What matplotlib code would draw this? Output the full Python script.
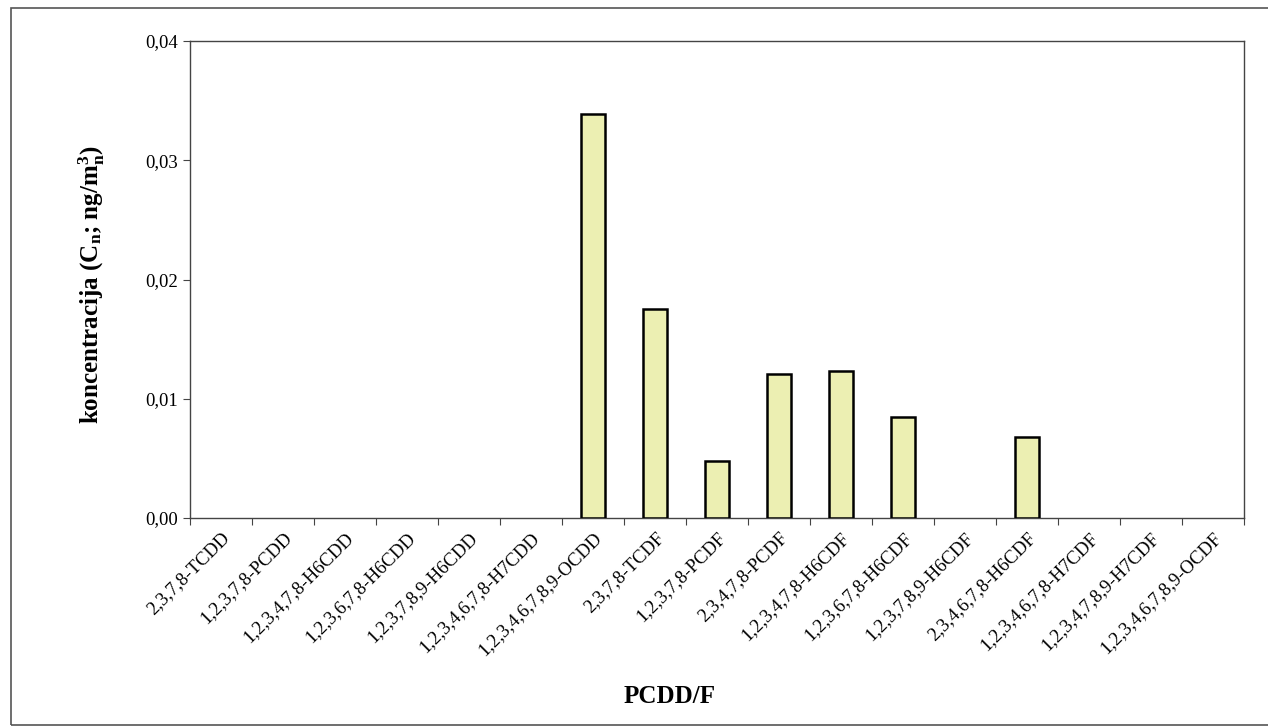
import numpy as np
import matplotlib.pyplot as plt
from matplotlib.patches import Rectangle
from matplotlib.ticker import FuncFormatter

plt.rcParams['font.family'] = ['Liberation Serif', 'DejaVu Serif']
plt.rcParams['mathtext.fontset'] = 'custom'
plt.rcParams['mathtext.rm'] = 'Liberation Serif:bold'
plt.rcParams['mathtext.it'] = 'Liberation Serif:bold'
plt.rcParams['mathtext.bf'] = 'Liberation Serif:bold'

# congeners on the x axis
congeners = [
    "2,3,7,8-TCDD", "1,2,3,7,8-PCDD", "1,2,3,4,7,8-H6CDD", "1,2,3,6,7,8-H6CDD",
    "1,2,3,7,8,9-H6CDD", "1,2,3,4,6,7,8-H7CDD", "1,2,3,4,6,7,8,9-OCDD",
    "2,3,7,8-TCDF", "1,2,3,7,8-PCDF", "2,3,4,7,8-PCDF", "1,2,3,4,7,8-H6CDF",
    "1,2,3,6,7,8-H6CDF", "1,2,3,7,8,9-H6CDF", "2,3,4,6,7,8-H6CDF",
    "1,2,3,4,6,7,8-H7CDF", "1,2,3,4,7,8,9-H7CDF", "1,2,3,4,6,7,8,9-OCDF",
]

# concentration, ng/m3_n
conc = [0, 0, 0, 0, 0, 0, 0.0339, 0.0175, 0.0048, 0.0121, 0.0123, 0.0085,
        0, 0.0068, 0, 0, 0]

yticks = [0.0, 0.01, 0.02, 0.03, 0.04]


def main():
    fig = plt.figure(figsize=(12.68, 7.27), dpi=100)
    ax = fig.add_axes([190 / 1268, 1 - 518 / 727, 1054 / 1268, 477 / 727])

    # outer frame of the scanned chart
    fig.patches.append(Rectangle((11 / 1268, 2 / 727), 1.2, 1 - 10 / 727,
                                 transform=fig.transFigure, fill=False,
                                 edgecolor='#555555', linewidth=1.2))

    x = np.arange(len(congeners))
    # empty categories get no outline
    edges = ['black' if v > 0 else 'none' for v in conc]
    ax.bar(x, conc, width=0.38, color='#ECEFB2', edgecolor=edges,
           linewidth=1.8, zorder=3)

    ax.set_xlim(-0.5, len(congeners) - 0.5)
    ax.set_ylim(0, 0.04)

    # tick marks on category borders, labels at centres
    ax.set_xticks(np.arange(len(congeners) + 1) - 0.5)
    ax.set_xticklabels([])
    ax.set_xticks(x, minor=True)
    ax.set_xticklabels(congeners, minor=True, rotation=45, ha='right',
                       rotation_mode='anchor', fontsize=13.5)
    ax.tick_params(axis='x', which='minor', length=0, pad=8)
    ax.tick_params(axis='x', which='major', length=5, width=0.8,
                   color='#444444')

    ax.set_yticks(yticks)
    ax.yaxis.set_major_formatter(
        FuncFormatter(lambda v, p: f"{v:.2f}".replace('.', ',')))
    ax.tick_params(axis='y', length=5, width=0.8, color='#444444',
                   labelsize=13.5, pad=4)

    for s in ax.spines.values():
        s.set_color('#444444')
        s.set_linewidth(1.0)

    ax.set_xlabel("PCDD/F", fontsize=18, fontweight='bold')
    ax.xaxis.set_label_coords(0.455, -0.35)
    ax.set_ylabel(r"koncentracija (C$_\mathrm{n}$; ng/m$^\mathrm{3}_\mathrm{n}$)",
                  fontsize=18, fontweight='bold')
    ax.yaxis.set_label_coords(-0.079, 0.49)

    fig.savefig("out.png", dpi=100)


if __name__ == "__main__":
    main()
